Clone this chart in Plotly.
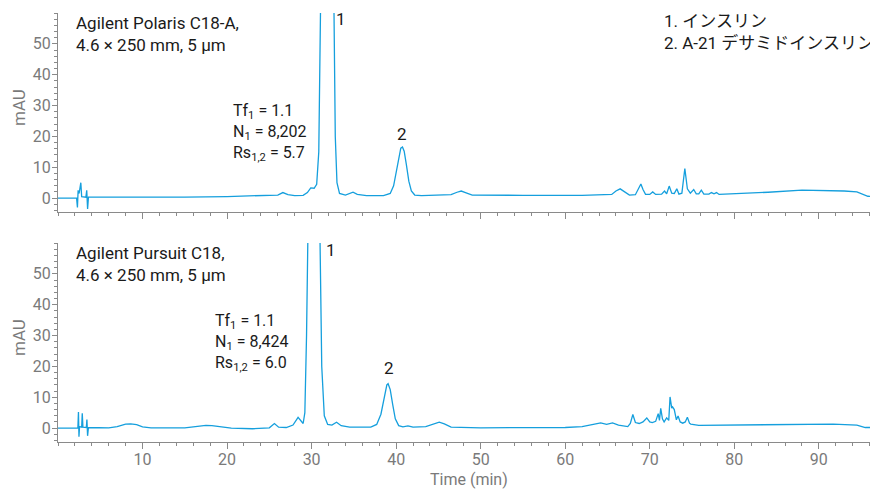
import plotly.graph_objects as go
from plotly.subplots import make_subplots

# ---- Data ----
polaris_time = [0.0, 2.2, 2.3, 2.38, 2.5, 2.6, 2.7, 2.8, 3.3, 3.4, 3.5, 3.6,
                10.0, 15.0, 20.0, 25.0, 26.0, 26.6, 27.2, 28.0, 29.0, 29.5, 29.9, 30.3,
                30.6, 30.85, 31.05, 31.3, 31.9, 32.45, 32.65, 32.8, 33.0, 33.3, 34.0,
                34.5, 34.9, 35.4, 36.5, 38.5, 39.3, 39.7, 40.0, 40.3, 40.55, 40.75,
                40.95, 41.2, 41.5, 41.8, 42.2, 43.0, 45.0, 46.5, 47.2, 47.7, 48.2, 49.0,
                55.0, 62.0, 65.5, 66.0, 66.5, 67.0, 67.6, 68.3, 68.7, 68.95, 69.2, 69.5,
                70.0, 70.35, 70.7, 71.4, 71.75, 72.0, 72.3, 72.6, 72.9, 73.2, 73.45,
                73.8, 74.15, 74.45, 74.8, 75.2, 75.5, 75.8, 76.1, 76.4, 77.0, 77.3,
                77.6, 77.9, 78.2, 80.0, 84.0, 88.0, 90.0, 93.0, 94.5, 95.2, 95.8, 97.0]
polaris_mau = [0.0, 0.0, -3.0, 2.5, 1.5, 2.8, 5.0, 0.5, 0.3, 2.5, -3.5, 0.3,
               0.2, 0.3, 0.5, 0.8, 1.0, 1.8, 1.1, 0.8, 0.9, 1.8, 3.3, 3.2,
               4.5, 15.0, 60.0, 150.0, 500.0, 150.0, 60.0, 20.0, 5.0, 1.5, 1.0,
               1.6, 1.9, 1.2, 0.8, 0.8, 1.5, 4.0, 8.5, 13.5, 16.2, 16.6,
               15.2, 11.0, 5.5, 2.3, 1.0, 0.8, 0.9, 1.1, 1.9, 2.3, 1.8, 1.0,
               0.9, 0.9, 1.2, 2.3, 3.0, 2.2, 1.0, 1.1, 3.0, 4.6, 2.8, 1.2,
               1.2, 2.0, 1.2, 1.3, 2.3, 1.4, 3.9, 1.6, 1.5, 3.0, 1.3,
               1.6, 9.6, 3.0, 1.6, 2.8, 1.4, 1.4, 2.6, 1.3, 1.3, 1.8,
               1.4, 1.8, 1.2, 1.4, 1.9, 2.6, 2.5, 2.3, 2.0, 1.3, 0.6, 0.5]

pursuit_time = [0.0, 2.35, 2.42, 2.48, 2.55, 2.8, 2.87, 2.95, 3.35, 3.42, 3.5, 3.6,
                6.0, 7.0, 8.0, 8.6, 9.3, 10.0, 11.0, 15.0, 16.0, 17.5, 18.2, 19.5,
                20.5, 23.0, 25.0, 25.6, 26.1, 27.0, 27.8, 28.4, 28.8, 29.0, 29.2,
                29.4, 29.55, 29.8, 30.3, 30.8, 31.0, 31.2, 31.5, 31.9, 32.4, 32.95,
                33.5, 34.5, 37.0, 37.7, 38.2, 38.6, 38.9, 39.05, 39.3, 39.6, 39.9,
                40.3, 40.8, 41.4, 42.0, 43.5, 44.5, 45.1, 45.7, 46.5, 50.0, 60.0,
                62.0, 63.5, 64.2, 64.9, 65.6, 66.3, 67.4, 67.7, 68.0, 68.3, 68.75,
                69.2, 69.65, 70.0, 70.3, 70.7, 71.0, 71.15, 71.3, 71.5, 71.7, 72.0,
                72.25, 72.4, 72.6, 72.7, 72.9, 73.15, 73.35, 73.6, 73.9, 74.2, 74.45,
                74.7, 74.85, 75.8, 80.0, 86.0, 91.7, 94.5, 95.5, 97.0]
pursuit_mau = [0.0, 0.0, 5.2, -2.8, 0.5, 0.3, 4.8, 0.3, 0.2, 2.8, -2.5, 0.2,
               0.1, 0.5, 1.3, 1.4, 1.1, 0.4, 0.1, 0.1, 0.4, 0.9, 0.8, 0.3,
               0.0, -0.2, 0.1, 1.5, 0.3, 0.2, 1.0, 3.5, 2.3, 1.5, 5.0,
               30.0, 60.0, 200.0, 500.0, 200.0, 60.0, 20.0, 4.0, 1.2, 1.0, 1.9,
               0.8, 0.3, 0.3, 1.2, 4.5, 10.5, 14.0, 14.4, 12.5, 7.5, 3.0,
               0.8, 0.4, 0.7, 0.3, 0.5, 1.5, 1.9, 1.4, 0.3, 0.1, 0.2,
               0.5, 1.2, 1.7, 1.2, 1.7, 1.0, 0.5, 1.5, 4.4, 1.8, 1.5,
               2.0, 3.3, 2.0, 1.8, 2.2, 4.7, 2.5, 6.4, 3.0, 2.0, 3.3,
               2.5, 10.1, 6.5, 6.9, 6.0, 2.7, 3.9, 2.0, 1.6, 2.0, 3.5,
               1.6, 1.3, 0.9, 1.0, 1.3, 1.3, 1.0, 0.2, 0.2]

x_tick_vals = [10, 20, 30, 40, 50, 60, 70, 80, 90]
y_tick_vals = [0, 10, 20, 30, 40, 50]

top_title = ["Agilent Polaris C18-A,", "4.6 × 250 mm, 5 µm"]
top_stats = ["Tf<sub>1</sub> = 1.1", "N<sub>1</sub> = 8,202", "Rs<sub>1,2</sub> = 5.7"]
bot_title = ["Agilent Pursuit C18,", "4.6 × 250 mm, 5 µm"]
bot_stats = ["Tf<sub>1</sub> = 1.1", "N<sub>1</sub> = 8,424", "Rs<sub>1,2</sub> = 6.0"]
peak_legend = ["1. インスリン", "2. A-21 デサミドインスリン"]

# ---- Style ----
LINE = "#159fdd"
AXIS = "#8a8a8a"
TICKFONT = "#7a7a7a"
FONT = "Roboto, 'Noto Sans CJK JP', sans-serif"
OFF = 8                      # page body margin
W, H = 878 - OFF, 489 - OFF  # figure size so it fits the window
ML, MR, MT, MB = 58 - OFF, 0, 13 - OFF, 47
PW, PH = W - ML - MR, H - MT - MB


def px(xp):  # absolute screen x -> paper
    return (xp - OFF - ML) / PW


def py(yp):  # absolute screen y -> paper
    return (H - MB - (yp - OFF)) / PH


top_dom = [py(212), 1.0]
bot_dom = [0.0, py(243)]

fig = make_subplots(rows=2, cols=1, shared_xaxes=False)
fig.add_trace(go.Scatter(x=polaris_time, y=polaris_mau, mode="lines",
                         line=dict(color=LINE, width=1.3), showlegend=False), row=1, col=1)
fig.add_trace(go.Scatter(x=pursuit_time, y=pursuit_mau, mode="lines",
                         line=dict(color=LINE, width=1.3), showlegend=False), row=2, col=1)

xcommon = dict(range=[0, 97], tickvals=x_tick_vals, ticks="outside", ticklen=6,
               tickcolor=AXIS, showline=True, linecolor=AXIS, linewidth=1,
               showgrid=False, zeroline=False, ticklabelstandoff=-3,
               minor=dict(dtick=2, tick0=0, ticks="outside", ticklen=3, tickcolor=AXIS),
               tickfont=dict(family=FONT, size=16, color=TICKFONT))
ycommon = dict(range=[-4.5, 60], tickvals=y_tick_vals, ticks="outside", ticklen=5,
               tickcolor=AXIS, showline=True, linecolor=AXIS, linewidth=1,
               showgrid=False, zeroline=False, ticklabelstandoff=-2,
               minor=dict(dtick=2, tick0=0, ticks="outside", ticklen=3, tickcolor=AXIS),
               tickfont=dict(family=FONT, size=16, color=TICKFONT))

fig.update_layout(
    xaxis=dict(xcommon, domain=[0, 1], showticklabels=False, anchor="y"),
    yaxis=dict(ycommon, domain=top_dom, anchor="x"),
    xaxis2=dict(xcommon, domain=[0, 1], showticklabels=True, anchor="y2"),
    yaxis2=dict(ycommon, domain=bot_dom, anchor="x2"),
)

TXT = "#1a1a1a"
ann = []


def add(text, xp, yp, xanchor="left", yanchor="middle", size=17, color=TXT, align="left", angle=0):
    ann.append(dict(text=text, x=px(xp), y=py(yp), xref="paper", yref="paper",
                    xanchor=xanchor, yanchor=yanchor, showarrow=False, align=align,
                    textangle=angle, font=dict(family=FONT, size=size, color=color)))


# top panel
add("<br>".join(top_title), 74, 34)
add("<br>".join(top_stats), 231, 132, size=16)
add("<br>".join(peak_legend), 662, 32)
add("1", 341, 19, xanchor="center")
add("2", 402, 134, xanchor="center")

# bottom panel
add("<br>".join(bot_title), 74, 264)
add("<br>".join(bot_stats), 213, 342, size=16)
add("1", 331, 250, xanchor="center")
add("2", 389, 368, xanchor="center")

add("mAU", 19, 108, xanchor="center", color=TICKFONT, angle=-90)
add("mAU", 19, 338, xanchor="center", color=TICKFONT, angle=-90)
add("Time (min)", 469, 480, xanchor="center", size=16, color=TICKFONT)

fig.update_layout(
    width=W, height=H, margin=dict(l=ML, r=MR, t=MT, b=MB),
    paper_bgcolor="white", plot_bgcolor="white",
    annotations=ann, showlegend=False,
    font=dict(family=FONT),
)

fig.write_html("out.html")
